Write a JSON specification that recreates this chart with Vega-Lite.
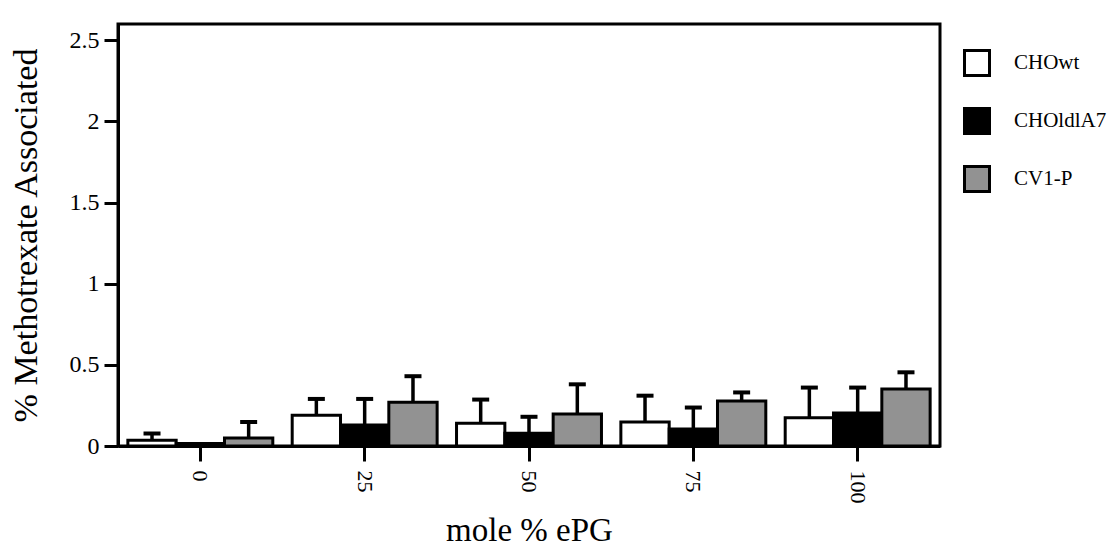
{
  "$schema": "https://vega.github.io/schema/vega-lite/v6.json",
  "width": 822,
  "height": 422,
  "autosize": "none",
  "padding": {"left": 118, "top": 24, "right": 172, "bottom": 104},
  "background": "white",
  "data": {
    "values": [
      {"ePG": "0", "line": "CHOwt", "value": 0.035, "upper": 0.077},
      {"ePG": "0", "line": "CHOldlA7", "value": 0.015, "upper": null},
      {"ePG": "0", "line": "CV1-P", "value": 0.05, "upper": 0.148},
      {"ePG": "25", "line": "CHOwt", "value": 0.19, "upper": 0.29},
      {"ePG": "25", "line": "CHOldlA7", "value": 0.13, "upper": 0.29},
      {"ePG": "25", "line": "CV1-P", "value": 0.27, "upper": 0.43},
      {"ePG": "50", "line": "CHOwt", "value": 0.14, "upper": 0.286},
      {"ePG": "50", "line": "CHOldlA7", "value": 0.079, "upper": 0.18},
      {"ePG": "50", "line": "CV1-P", "value": 0.197, "upper": 0.38},
      {"ePG": "75", "line": "CHOwt", "value": 0.148, "upper": 0.31},
      {"ePG": "75", "line": "CHOldlA7", "value": 0.105, "upper": 0.237},
      {"ePG": "75", "line": "CV1-P", "value": 0.277, "upper": 0.33},
      {"ePG": "100", "line": "CHOwt", "value": 0.174, "upper": 0.36},
      {"ePG": "100", "line": "CHOldlA7", "value": 0.203, "upper": 0.36},
      {"ePG": "100", "line": "CV1-P", "value": 0.351, "upper": 0.454}
    ]
  },
  "encoding": {
    "x": {
      "field": "ePG",
      "type": "ordinal",
      "sort": ["0", "25", "50", "75", "100"],
      "scale": {"paddingInner": 0.118, "paddingOuter": 0.06},
      "axis": {"title": "mole % ePG", "labelAngle": 90, "labelPadding": 9, "titlePadding": 11, "titleFontSize": 33, "tickSize": 15}
    },
    "xOffset": {
      "field": "line",
      "type": "nominal",
      "sort": ["CHOwt", "CHOldlA7", "CV1-P"],
      "scale": {"paddingInner": 0, "paddingOuter": 0}
    }
  },
  "layer": [
    {
      "mark": {"type": "bar", "stroke": "black", "strokeWidth": 3},
      "encoding": {
        "y": {
          "field": "value",
          "type": "quantitative",
          "scale": {"domain": [0, 2.5]},
          "axis": {"title": "% Methotrexate Associated", "values": [0, 0.5, 1, 1.5, 2, 2.5], "format": "~g", "labelPadding": 5, "labelFontSize": 24, "titlePadding": 26, "titleFontSize": 34, "tickSize": 14}
        },
        "fill": {
          "field": "line",
          "type": "nominal",
          "scale": {"domain": ["CHOwt", "CHOldlA7", "CV1-P"], "range": ["white", "black", "#929292"]},
          "legend": {
            "orient": "none",
            "legendX": 845,
            "legendY": 25,
            "title": null,
            "padding": 0,
            "symbolType": "square",
            "symbolSize": 625,
            "symbolStrokeColor": "black",
            "symbolStrokeWidth": 3,
            "symbolOpacity": 1,
            "labelFont": "Liberation Serif",
            "labelFontSize": 21,
            "labelColor": "black",
            "labelOffset": 23,
            "rowPadding": 20
          }
        }
      }
    },
    {
      "transform": [{"filter": "datum.upper != null"}],
      "mark": {"type": "rule", "color": "black", "strokeWidth": 3.5},
      "encoding": {
        "y": {"field": "value", "type": "quantitative"},
        "y2": {"field": "upper"}
      }
    },
    {
      "transform": [{"filter": "datum.upper != null"}],
      "mark": {"type": "tick", "color": "black", "thickness": 4, "size": 17, "opacity": 1},
      "encoding": {
        "y": {"field": "upper", "type": "quantitative"}
      }
    }
  ],
  "config": {
    "view": {"stroke": "black", "strokeWidth": 3},
    "axis": {
      "grid": false,
      "domainColor": "black",
      "domainWidth": 3,
      "tickColor": "black",
      "tickWidth": 3,
      "labelFont": "Liberation Serif",
      "labelFontSize": 22,
      "labelColor": "black",
      "titleFont": "Liberation Serif",
      "titleFontWeight": "normal",
      "titleColor": "black"
    }
  }
}
